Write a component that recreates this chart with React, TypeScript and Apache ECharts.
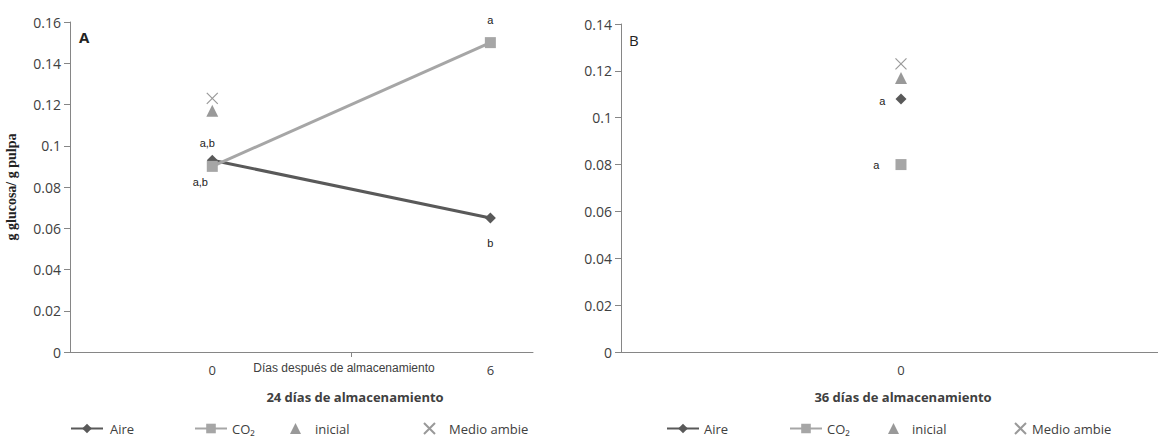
import React, { useEffect, useRef } from "react";
import * as echarts from "echarts";

// Storage days on the x axis (panel A: 24 days stored, panel B: 36 days stored)
const daysA = [0, 6];
const daysB = [0];

// Glucose content, g glucosa / g pulpa
const aireA = [0.093, 0.065];
const co2A = [0.09, 0.15];
const inicialA = [0.117];
const medioA = [0.123];

const aireB = [0.108];
const co2B = [0.08];
const inicialB = [0.117];
const medioB = [0.123];

// Significance letters
const lettersAireA = ["a,b", "b"];
const lettersCo2A = ["a,b", "a"];
const lettersAireB = ["a"];
const lettersCo2B = ["a"];

const yTicksA = { min: 0, max: 0.16, interval: 0.02 };
const yTicksB = { min: 0, max: 0.14, interval: 0.02 };

const DARK = "#595959";
const LIGHT = "#a6a6a6";
const MID = "#808080";
const AXIS = "#868686";
const TXT = "#404040";
const FONT = "'Open Sans', sans-serif";
const XSYM = "path://M0,0L10,10M10,0L0,10";

const lblStyle = { fontFamily: "'Liberation Sans', Arial, sans-serif", fontSize: 11, color: "#222" };

function withLabels(xs: number[], ys: number[], letters: string[], labelCfg: any[]) {
  return xs.map((x, i) => ({
    value: [x, ys[i]],
    label: { show: true, formatter: letters[i], ...lblStyle, ...labelCfg[i] },
  }));
}

function pts(xs: number[], ys: number[]) {
  return xs.map((x, i) => [x, ys[i]]);
}

function legendItem(name: string, left: number, w: number, h: number, pad: number) {
  return {
    data: [name],
    left,
    top: 422,
    padding: 0,
    itemWidth: w,
    itemHeight: h,
    selectedMode: false,
    formatter: (n: string) => (n === "Medio ambiente" ? "Medio ambie" : n),
    textStyle: { fontFamily: FONT, fontSize: 13, color: TXT, padding: [0, 0, 0, pad] },
  };
}

export default function App() {
  const ref = useRef<HTMLDivElement>(null);

  useEffect(() => {
    if (!ref.current) return;
    const chart = echarts.init(ref.current, null, { renderer: "svg" });

    const yAxisBase = {
      type: "value",
      axisLine: { show: true, onZero: false, lineStyle: { color: AXIS } },
      axisTick: { show: true, length: 6, lineStyle: { color: AXIS } },
      splitLine: { show: false },
      axisLabel: { fontFamily: FONT, fontSize: 14, color: TXT, margin: 9 },
    };

    chart.setOption({
      animation: false,
      backgroundColor: "#ffffff",
      title: [
        { text: "A", left: 74, top: 24, textStyle: { fontFamily: FONT, fontSize: 15, fontWeight: "bold", color: "#222" } },
        { text: "B", left: 624, top: 27, textStyle: { fontFamily: FONT, fontSize: 15, fontWeight: "normal", color: "#222" } },
        {
          text: "Días después de almacenamiento",
          left: 339,
          top: 357,
          textAlign: "center",
          textStyle: { fontFamily: "'Liberation Sans', Arial, sans-serif", fontSize: 12, fontWeight: "normal", color: TXT },
        },
        {
          text: "24 días de almacenamiento",
          left: 350,
          top: 385,
          textAlign: "center",
          textStyle: { fontFamily: FONT, fontSize: 13, fontWeight: "bold", color: TXT },
        },
        {
          text: "36 días de almacenamiento",
          left: 898,
          top: 385,
          textAlign: "center",
          textStyle: { fontFamily: FONT, fontSize: 13, fontWeight: "bold", color: TXT },
        },
      ],
      legend: [
        legendItem("Aire", 70, 32, 12, 2),
        legendItem("CO₂", 194, 32, 12, 0),
        legendItem("inicial", 290, 11, 11, 9),
        legendItem("Medio ambiente", 423, 11, 11, 9),
        legendItem("Aire", 666, 32, 12, 0),
        legendItem("CO₂", 789, 32, 12, 0),
        legendItem("inicial", 888, 11, 11, 8),
        legendItem("Medio ambiente", 1014, 11, 11, 1),
      ],
      grid: [
        { left: 70, top: 22, right: 625, bottom: 87 },
        { left: 621, top: 24, right: 0, bottom: 87 },
      ],
      xAxis: [
        {
          type: "value",
          gridIndex: 0,
          min: -3.07,
          max: 6.92,
          axisLine: { show: true, onZero: false, lineStyle: { color: AXIS } },
          axisTick: { show: true, length: 5, customValues: [3], lineStyle: { color: AXIS } },
          axisLabel: { customValues: daysA, fontFamily: FONT, fontSize: 13, color: TXT, margin: 11 },
          splitLine: { show: false },
        },
        {
          type: "value",
          gridIndex: 1,
          min: -1,
          max: 0.918,
          axisLine: { show: true, onZero: false, lineStyle: { color: AXIS } },
          axisTick: { show: false },
          axisLabel: { customValues: daysB, fontFamily: FONT, fontSize: 13, color: TXT, margin: 11 },
          splitLine: { show: false },
        },
      ],
      yAxis: [
        {
          ...yAxisBase,
          gridIndex: 0,
          ...yTicksA,
          name: "g glucosa/ g pulpa",
          nameLocation: "middle",
          nameRotate: 90,
          nameGap: 52,
          nameTextStyle: { fontFamily: "'Liberation Serif', serif", fontSize: 14, fontWeight: "bold", color: "#222" },
        },
        { ...yAxisBase, gridIndex: 1, ...yTicksB },
      ],
      series: [
        {
          name: "inicial",
          type: "scatter",
          xAxisIndex: 0,
          yAxisIndex: 0,
          symbol: "triangle",
          symbolSize: 12,
          itemStyle: { color: MID },
          data: pts([0], inicialA),
        },
        {
          name: "Medio ambiente",
          type: "scatter",
          xAxisIndex: 0,
          yAxisIndex: 0,
          symbol: XSYM,
          symbolSize: 11,
          itemStyle: { color: "rgba(0,0,0,0)", borderColor: MID, borderWidth: 1.2 },
          data: pts([0], medioA),
        },
        {
          name: "Aire",
          type: "line",
          xAxisIndex: 0,
          yAxisIndex: 0,
          symbol: "diamond",
          symbolSize: 11,
          lineStyle: { color: DARK, width: 3 },
          itemStyle: { color: DARK },
          data: withLabels(daysA, aireA, lettersAireA, [
            { position: "top", distance: 6, offset: [-5, 0] },
            { position: "bottom", distance: 14 },
          ]),
          z: 3,
        },
        {
          name: "CO₂",
          type: "line",
          xAxisIndex: 0,
          yAxisIndex: 0,
          symbol: "rect",
          symbolSize: 11,
          lineStyle: { color: LIGHT, width: 3 },
          itemStyle: { color: LIGHT },
          data: withLabels(daysA, co2A, lettersCo2A, [
            { position: "bottom", distance: 5, offset: [-12, 0] },
            { position: "top", distance: 12 },
          ]),
          z: 4,
        },
        {
          name: "inicial",
          type: "scatter",
          xAxisIndex: 1,
          yAxisIndex: 1,
          symbol: "triangle",
          symbolSize: 12,
          itemStyle: { color: MID },
          data: pts(daysB, inicialB),
        },
        {
          name: "Medio ambiente",
          type: "scatter",
          xAxisIndex: 1,
          yAxisIndex: 1,
          symbol: XSYM,
          symbolSize: 11,
          itemStyle: { color: "rgba(0,0,0,0)", borderColor: MID, borderWidth: 1.2 },
          data: pts(daysB, medioB),
        },
        {
          name: "Aire",
          type: "line",
          xAxisIndex: 1,
          yAxisIndex: 1,
          symbol: "diamond",
          symbolSize: 11,
          lineStyle: { color: DARK, width: 3 },
          itemStyle: { color: DARK },
          data: withLabels(daysB, aireB, lettersAireB, [{ position: "left", distance: 10, offset: [0, 2] }]),
        },
        {
          name: "CO₂",
          type: "line",
          xAxisIndex: 1,
          yAxisIndex: 1,
          symbol: "rect",
          symbolSize: 11,
          lineStyle: { color: LIGHT, width: 3 },
          itemStyle: { color: LIGHT },
          data: withLabels(daysB, co2B, lettersCo2B, [{ position: "left", distance: 16 }]),
        },
      ],
    });

    return () => chart.dispose();
  }, []);

  return <div ref={ref} style={{ width: 1158, height: 439, position: "absolute", left: 0, top: 0 }} />;
}
